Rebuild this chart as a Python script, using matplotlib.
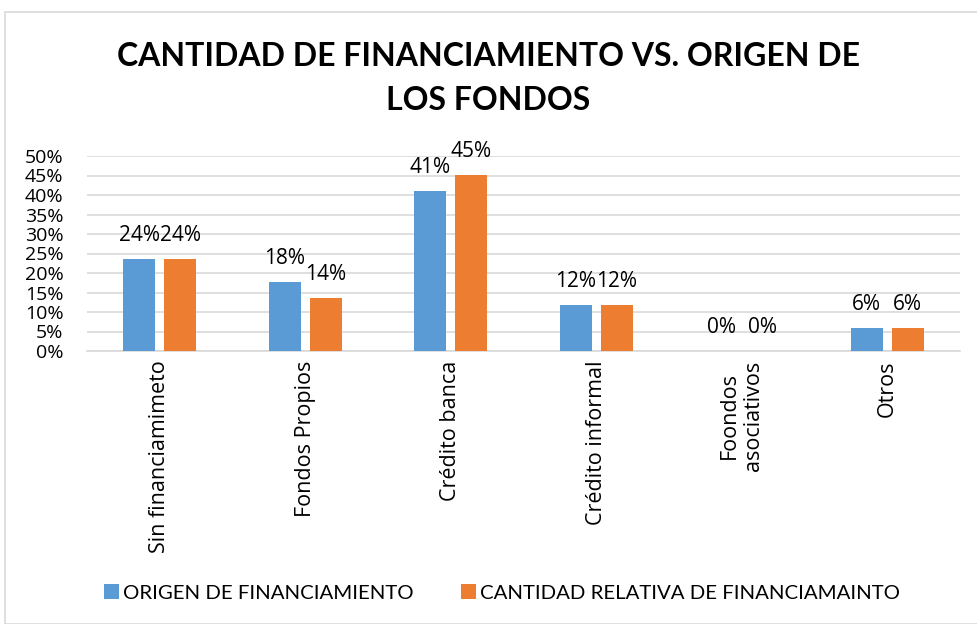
import matplotlib.pyplot as plt
import numpy as np
from matplotlib.patches import Rectangle

# Data
categories = ['Sin financiamimeto', 'Fondos Propios', 'Crédito banca',
              'Crédito informal', 'Foondos\nasociativos', 'Otros']
origen = [0.236, 0.176, 0.411, 0.119, 0.0, 0.058]
cantidad = [0.236, 0.136, 0.452, 0.119, 0.0, 0.058]
series_names = ['ORIGEN DE FINANCIAMIENTO', 'CANTIDAD RELATIVA DE FINANCIAMAINTO']
yticks = [0, 0.05, 0.10, 0.15, 0.20, 0.25, 0.30, 0.35, 0.40, 0.45, 0.50]

BLUE = '#5B9BD5'
ORANGE = '#ED7D31'
GRID = '#D9D9D9'

plt.rcParams['font.family'] = ['Lato', 'DejaVu Sans']

fig = plt.figure(figsize=(9.77, 6.24), dpi=100)
ax = fig.add_axes([87 / 977, 1 - 351 / 624, 873 / 977, 195 / 624])

x = np.arange(len(categories))
width = 0.22
offset = 0.141
b1 = ax.bar(x - offset, origen, width, color=BLUE, label=series_names[0], zorder=3)
b2 = ax.bar(x + offset, cantidad, width, color=ORANGE, label=series_names[1], zorder=3)

# data labels above bars
for bars, vals in [(b1, origen), (b2, cantidad)]:
    for rect, v in zip(bars, vals):
        ax.annotate(f'{v:.0%}', (rect.get_x() + rect.get_width() / 2, v),
                    xytext=(0, 13), textcoords='offset points',
                    ha='center', va='baseline', fontsize=15, family='Open Sans')

ax.set_xlim(-0.5, len(categories) - 0.5)
ax.set_ylim(0, 0.5)
ax.set_yticks(yticks)
ax.set_yticklabels([f'{t:.0%}' for t in yticks], fontsize=14, family='Open Sans')
ax.set_xticks(x)
ax.set_xticklabels(categories, rotation=90, fontsize=15.5, family='Open Sans',
                   va='top', ha='center', multialignment='center')
ax.tick_params(axis='x', length=0, pad=7)
ax.tick_params(axis='y', length=0, pad=17)
ax.grid(axis='y', color=GRID, linewidth=1.2, zorder=0)
for s in ['top', 'right', 'left']:
    ax.spines[s].set_visible(False)
ax.spines['bottom'].set_color(GRID)
ax.spines['bottom'].set_linewidth(1.2)

fig.text(0.5, 1 - 57 / 624, 'CANTIDAD DE FINANCIAMIENTO VS. ORIGEN DE',
         ha='center', va='center', fontsize=23, fontweight='bold')
fig.text(0.5, 1 - 101 / 624, 'LOS FONDOS',
         ha='center', va='center', fontsize=23, fontweight='bold')

fig.legend(loc='center', bbox_to_anchor=(0.514, 1 - 593 / 624), ncol=2, frameon=False,
           fontsize=14.7, handlelength=0.75, handleheight=0.75, handletextpad=0.2,
           columnspacing=2.3)

# light chart border
fig.patches.append(Rectangle((5 / 977, 0), 1, 1 - 12 / 624, transform=fig.transFigure,
                             fill=False, edgecolor=GRID, linewidth=1.2))

fig.savefig('out.png', dpi=100)
